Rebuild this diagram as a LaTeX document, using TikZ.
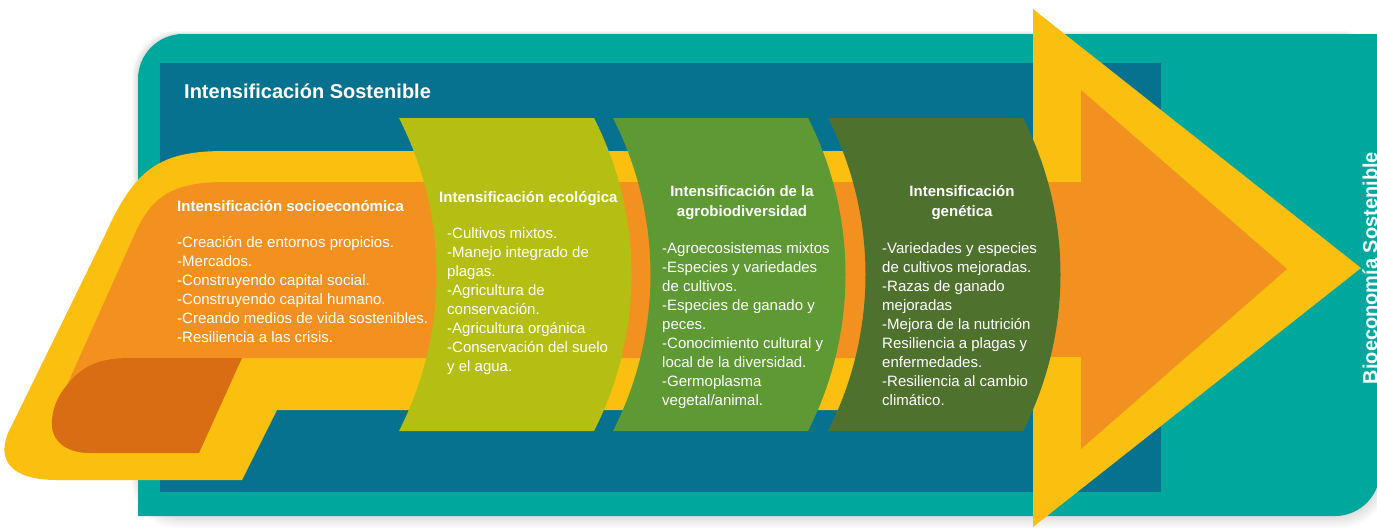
\documentclass[tikz,border=0pt]{standalone}
\usepackage{fontspec}
\setmainfont{Liberation Sans}
\definecolor{framteal}{RGB}{0,167,157}
\definecolor{petrol}{RGB}{6,114,143}
\definecolor{bandyellow}{RGB}{251,192,15}
\definecolor{bandorange}{RGB}{242,145,32}
\definecolor{curlorange}{RGB}{217,109,19}
\definecolor{ecoolive}{RGB}{181,190,18}
\definecolor{agrogreen}{RGB}{94,153,51}
\definecolor{genegreen}{RGB}{78,114,46}
\tikzset{
  bodytext/.style={anchor=base west, align=left, text=white, inner sep=0pt,
    font=\fontsize{15}{19}\selectfont},
  headleft/.style={anchor=base west, text=white, inner sep=0pt,
    font=\fontsize{15}{19.5}\selectfont\bfseries},
  headtext/.style={anchor=base, align=center, text=white, inner sep=0pt,
    font=\fontsize{15}{19.5}\selectfont\bfseries},
  bigtext/.style={text=white, inner sep=0pt, font=\fontsize{20}{24}\selectfont\bfseries},
}

\begin{document}
\begin{tikzpicture}[x=1pt,y=-1pt]
\clip (0,0) rectangle (1377,531);
% frame
\foreach \d in {2,4,...,12}
  \fill[black,opacity=0.018,rounded corners=45] (138-\d/2,34-\d/4) rectangle (1380+\d/2,516+\d);
\fill[framteal] (138,516) -- (138,300) [rounded corners=45] -- (138,34) -- (1380,34)
  -- (1380,516) -- (700,516) [sharp corners] -- cycle;
\fill[framteal] (1300,34) rectangle (1380,120);
\fill[petrol] (160,63) rectangle (1161,492);
\node[bigtext, anchor=base west] (titulo) at (184,98) {Intensificación Sostenible};
% ribbon
\fill[bandyellow] (57,480) .. controls (5,480) and (-5,455) .. (12,425) -- (105,235)
  .. controls (135,168) and (160,151) .. (225,151) -- (1050,151) -- (1050,410) -- (277,410)
  -- (242,480) -- cycle;
\fill[bandorange] (67,385) -- (133,238) .. controls (150,198) and (170,182) .. (225,182)
  -- (1050,182) -- (1050,358) -- (132,358) -- cycle;
\fill[curlorange] (67,385) .. controls (85,362) and (105,358) .. (132,358) -- (242,358)
  -- (199,453) -- (90,453) .. controls (65,453) and (50,440) .. (52,420)
  .. controls (53,405) and (60,393) .. (67,385) -- cycle;
% arrow
\fill[bandyellow] (1033,9) -- (1361,268) -- (1033,527) -- cycle;
\fill[bandorange] (1030,182) rectangle (1085,357);
\fill[bandorange] (1081,90) -- (1287,269) -- (1081,449) -- cycle;
% panels
\foreach \x/\c in {399/ecoolive, 613/agrogreen, 828/genegreen}
  \fill[\c] (\x,118) -- (\x+195,118) .. controls (\x+245,216) and (\x+245,333) .. (\x+195,431)
    -- (\x,431) .. controls (\x+50,333) and (\x+50,216) .. (\x,118) -- cycle;

% texts (base = last line)
\node[headleft] (socio) at (177,211) {Intensificación socioeconómica};
\node[bodytext] (sociolist) at (177,342) {-Creación de entornos propicios.\\-Mercados.\\-Construyendo capital social.\\-Construyendo capital humano.\\-Creando medios de vida sostenibles.\\-Resiliencia a las crisis.};

\node[headleft] (eco) at (439,202) {Intensificación ecológica};
\node[bodytext] (ecolist) at (447,371) {-Cultivos mixtos.\\-Manejo integrado de\\plagas.\\-Agricultura de\\conservación.\\-Agricultura orgánica\\-Conservación del suelo\\y el agua.};

\node[headtext] (agro) at (742,216) {Intensificación de la\\agrobiodiversidad};
\node[bodytext] (agrolist) at (662,405) {-Agroecosistemas mixtos\\-Especies y variedades\\de cultivos.\\-Especies de ganado y\\peces.\\-Conocimiento cultural y\\local de la diversidad.\\-Germoplasma\\vegetal/animal.};

\node[headtext] (gene) at (962,216) {Intensificación\\genética};
\node[bodytext] (genelist) at (882,405) {-Variedades y especies\\de cultivos mejoradas.\\-Razas de ganado\\mejoradas\\-Mejora de la nutrición\\Resiliencia a plagas y\\enfermedades.\\-Resiliencia al cambio\\climático.};

\node[bigtext, rotate=90, anchor=base] (bioeco) at (1377,268) {Bioeconomía Sostenible};
\end{tikzpicture}
\end{document}
